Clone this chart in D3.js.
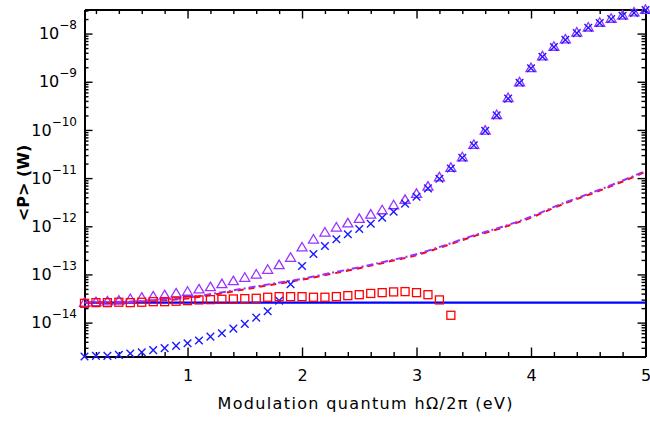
<!DOCTYPE html>
<html>
<head>
<meta charset="utf-8">
<script src="https://cdn.jsdelivr.net/npm/d3@7"></script>
<style>
  body { margin: 0; background: #fff; }
  svg { display: block; background: #fff; }
  text { font-family: "DejaVu Sans", "Liberation Sans", sans-serif; fill: #000; }
</style>
</head>
<body>
<svg id="chart" width="650" height="434"></svg>
<script>
// ---- data -------------------------------------------------------------
// modulation quantum (eV) for the sampled points
const quantum = [0.1,0.2,0.3,0.4,0.5,0.6,0.7,0.8,0.9,1.0,
                 1.1,1.2,1.3,1.4,1.5,1.6,1.7,1.8,1.9,2.0,
                 2.1,2.2,2.3,2.4,2.5,2.6,2.7,2.8,2.9,3.0,
                 3.1,3.2,3.3,3.4,3.5,3.6,3.7,3.8,3.9,4.0,
                 4.1,4.2,4.3,4.4,4.5,4.6,4.7,4.8,4.9,5.0];

// mean power <P> (W), triangles
const powerTriangle = [2.65e-14,2.72e-14,2.82e-14,2.92e-14,3.16e-14,3.37e-14,3.58e-14,3.80e-14,4.13e-14,4.48e-14,
                       5.00e-14,5.57e-14,6.44e-14,7.43e-14,8.73e-14,1.02e-13,1.28e-13,1.60e-13,2.27e-13,3.72e-13,
                       5.43e-13,7.59e-13,9.64e-13,1.18e-12,1.46e-12,1.79e-12,2.20e-12,2.80e-12,3.63e-12,4.82e-12,
                       6.82e-12,1.06e-11,1.67e-11,2.77e-11,5.00e-11,9.90e-11,2.09e-10,4.68e-10,9.93e-10,1.97e-9,
                       3.44e-9,5.46e-9,7.74e-9,1.07e-8,1.37e-8,1.72e-8,2.08e-8,2.43e-8,2.81e-8,3.19e-8];

// mean power <P> (W), crosses
const powerCross = [1.98e-15,2.04e-15,2.04e-15,2.14e-15,2.28e-15,2.43e-15,2.68e-15,2.95e-15,3.29e-15,3.74e-15,
                    4.24e-15,5.13e-15,6.03e-15,7.52e-15,9.40e-15,1.27e-14,1.72e-14,2.86e-14,6.25e-14,1.50e-13,
                    2.65e-13,3.89e-13,5.37e-13,6.81e-13,8.77e-13,1.13e-12,1.50e-12,2.00e-12,2.95e-12,4.10e-12,
                    6.12e-12,9.68e-12,1.58e-11,2.64e-11,4.79e-11,9.55e-11,2.00e-10,4.47e-10,9.55e-10,1.91e-9,
                    3.31e-9,5.25e-9,7.41e-9,1.02e-8,1.32e-8,1.66e-8,2.00e-8,2.34e-8,2.69e-8,3.09e-8];

// mean power <P> (W), squares (first 33 quanta)
const powerSquare = [2.52e-14,2.60e-14,2.60e-14,2.65e-14,2.60e-14,2.65e-14,2.72e-14,2.72e-14,2.78e-14,2.86e-14,
                     2.96e-14,3.00e-14,3.05e-14,3.10e-14,3.15e-14,3.20e-14,3.36e-14,3.46e-14,3.46e-14,3.46e-14,
                     3.36e-14,3.36e-14,3.47e-14,3.63e-14,3.80e-14,4.03e-14,4.19e-14,4.34e-14,4.40e-14,4.19e-14,
                     3.80e-14,2.96e-14,1.42e-14];

// continuous curves
const curveQuantum = [0.1,0.5,0.8,1.0,1.25,1.5,1.75,2.0,2.25,2.5,2.75,3.0,3.25,3.5,3.75,4.0,4.25,4.5,4.75,5.0];
const powerDashDot = [2.63e-14,2.75e-14,3.02e-14,3.31e-14,4.07e-14,5.13e-14,6.46e-14,8.13e-14,1.07e-13,1.41e-13,
                      1.91e-13,2.63e-13,4.07e-13,6.46e-13,9.77e-13,1.58e-12,2.82e-12,4.68e-12,7.94e-12,1.41e-11];
const powerDashed  = [2.55e-14,2.65e-14,2.90e-14,3.18e-14,3.90e-14,4.90e-14,6.20e-14,7.80e-14,1.02e-13,1.35e-13,
                      1.83e-13,2.52e-13,3.90e-13,6.20e-13,9.35e-13,1.51e-12,2.70e-12,4.48e-12,7.60e-12,1.35e-11];
const flatQuantum = [0.1,1.0,2.0,3.0,4.0,5.0];
const powerFlat   = [2.6e-14,2.6e-14,2.6e-14,2.6e-14,2.6e-14,2.6e-14];

// axis ticks
const xMajorTicks = [1,2,3,4,5];
const xMinorTicks = [0.2,0.4,0.6,0.8,1.2,1.4,1.6,1.8,2.2,2.4,2.6,2.8,3.2,3.4,3.6,3.8,4.2,4.4,4.6,4.8];
const yMajorTicks = [1e-14,1e-13,1e-12,1e-11,1e-10,1e-9,1e-8];
const yTickExponents = ["\u221214","\u221213","\u221212","\u221211","\u221210","\u22129","\u22128"];

// ---- layout -----------------------------------------------------------
const svg = d3.select("#chart");
const plot = { left: 84.5, right: 645.5, top: 9.5, bottom: 356.5 };

const x = d3.scaleLinear().domain([0.1, 5]).range([plot.left, plot.right]);
const y = d3.scaleLog().domain([1.98e-15, 3.16e-8]).range([plot.bottom, plot.top]);

// minor ticks of the log axis: 2..9 within each decade
const yMinorTicks = [];
for (let e = -15; e <= -8; e++) {
  for (let m = 2; m <= 9; m++) {
    const v = m * Math.pow(10, e);
    if (v > y.domain()[0] && v < y.domain()[1]) yMinorTicks.push(v);
  }
}

function styleAxis(g) {
  g.attr("font-family", null).attr("font-size", null);
  g.select(".domain").attr("stroke", "#000").attr("stroke-width", 2);
  g.selectAll(".tick line").attr("stroke", "#000").attr("stroke-width", 1.4);
}

// bottom axis with labels
svg.append("g")
  .attr("transform", `translate(0,${plot.bottom})`)
  .call(d3.axisBottom(x).tickValues(xMajorTicks).tickSizeInner(-9).tickSizeOuter(0)
        .tickPadding(13).tickFormat(d3.format("d")))
  .call(styleAxis)
  .call(g => g.selectAll(".tick text").attr("font-size", 16));
svg.append("g")
  .attr("transform", `translate(0,${plot.bottom})`)
  .call(d3.axisBottom(x).tickValues(xMinorTicks).tickSizeInner(-4.5).tickSizeOuter(0).tickFormat(""))
  .call(styleAxis);

// top axis
svg.append("g")
  .attr("transform", `translate(0,${plot.top})`)
  .call(d3.axisTop(x).tickValues(xMajorTicks).tickSizeInner(-9).tickSizeOuter(0).tickFormat(""))
  .call(styleAxis);
svg.append("g")
  .attr("transform", `translate(0,${plot.top})`)
  .call(d3.axisTop(x).tickValues(xMinorTicks).tickSizeInner(-4.5).tickSizeOuter(0).tickFormat(""))
  .call(styleAxis);

// left axis with 10^n labels
svg.append("g")
  .attr("transform", `translate(${plot.left},0)`)
  .call(d3.axisLeft(y).tickValues(yMajorTicks).tickSizeInner(-8).tickSizeOuter(0).tickPadding(7.5))
  .call(styleAxis)
  .call(g => g.selectAll(".tick text")
    .attr("font-size", 16)
    .text(null)
    .each(function(d, i) {
      const t = d3.select(this);
      t.append("tspan").text("10");
      t.append("tspan").attr("font-size", 12).attr("dy", -10).text(yTickExponents[i]);
    }));
svg.append("g")
  .attr("transform", `translate(${plot.left},0)`)
  .call(d3.axisLeft(y).tickValues(yMinorTicks).tickSizeInner(-4).tickSizeOuter(0).tickFormat(""))
  .call(styleAxis);

// right axis
svg.append("g")
  .attr("transform", `translate(${plot.right},0)`)
  .call(d3.axisRight(y).tickValues(yMajorTicks).tickSizeInner(-8).tickSizeOuter(0).tickFormat(""))
  .call(styleAxis);
svg.append("g")
  .attr("transform", `translate(${plot.right},0)`)
  .call(d3.axisRight(y).tickValues(yMinorTicks).tickSizeInner(-4).tickSizeOuter(0).tickFormat(""))
  .call(styleAxis);

// axis titles
svg.append("text")
  .attr("x", (plot.left + plot.right) / 2)
  .attr("y", 408.5)
  .attr("text-anchor", "middle")
  .attr("font-size", 16)
  .attr("textLength", 295)
  .attr("lengthAdjust", "spacing")
  .text("Modulation quantum h\u03A9/2\u03C0 (eV)");

svg.append("text")
  .attr("transform", `translate(28.5,${(plot.top + plot.bottom) / 2}) rotate(-90)`)
  .attr("text-anchor", "middle")
  .attr("font-size", 16)
  .attr("font-weight", "bold")
  .text("<P> (W)");

// ---- curves -----------------------------------------------------------
const line = d3.line()
  .x(d => x(d[0]))
  .y(d => y(d[1]))
  .curve(d3.curveMonotoneX);

const zip = (a, b) => a.map((v, i) => [v, b[i]]);

svg.append("path")
  .datum(zip(flatQuantum, powerFlat))
  .attr("d", line)
  .attr("fill", "none")
  .attr("stroke", "#0000ff")
  .attr("stroke-width", 2.2);

svg.append("path")
  .datum(zip(curveQuantum, powerDashed))
  .attr("d", line)
  .attr("fill", "none")
  .attr("stroke", "#ff0000")
  .attr("stroke-width", 2)
  .attr("stroke-dasharray", "6,5");

svg.append("path")
  .datum(zip(curveQuantum, powerDashDot))
  .attr("d", line)
  .attr("fill", "none")
  .attr("stroke", "#9b30ff")
  .attr("stroke-width", 2)
  .attr("stroke-dasharray", "7,3,2,3");

// ---- markers ----------------------------------------------------------
svg.append("g")
  .selectAll("path")
  .data(zip(quantum, powerTriangle))
  .join("path")
  .attr("transform", d => `translate(${x(d[0])},${y(d[1])})`)
  .attr("d", "M0,-4.5L5,4L-5,4Z")
  .attr("fill", "none")
  .attr("stroke", "#9b30ff")
  .attr("stroke-width", 1.3);

svg.append("g")
  .selectAll("path")
  .data(zip(quantum, powerCross))
  .join("path")
  .attr("transform", d => `translate(${x(d[0])},${y(d[1])})`)
  .attr("d", "M-3.8,-3.8L3.8,3.8M-3.8,3.8L3.8,-3.8")
  .attr("fill", "none")
  .attr("stroke", "#1a1aff")
  .attr("stroke-width", 1.4);

svg.append("g")
  .selectAll("rect")
  .data(zip(quantum.slice(0, powerSquare.length), powerSquare))
  .join("rect")
  .attr("x", d => x(d[0]) - 4)
  .attr("y", d => y(d[1]) - 4)
  .attr("width", 8)
  .attr("height", 8)
  .attr("fill", "none")
  .attr("stroke", "#ff0000")
  .attr("stroke-width", 1.3);
</script>
</body>
</html>
